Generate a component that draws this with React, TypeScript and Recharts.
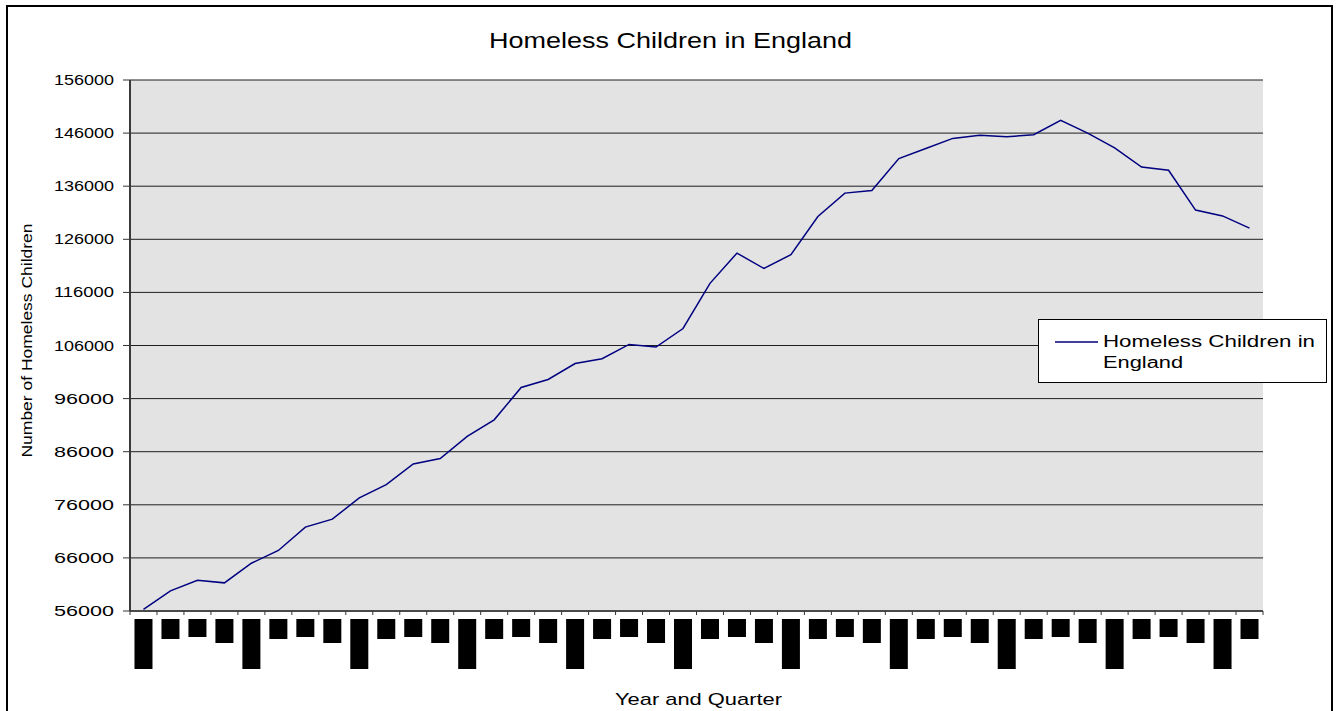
import { LineChart, Line, XAxis, YAxis, CartesianGrid } from "recharts"

// quarterly counts of homeless children, 1996 Q1 – 2006 Q2
const quarters = [
  "Q1 1996", "Q2 1996", "Q3 1996", "Q4 1996",
  "Q1 1997", "Q2 1997", "Q3 1997", "Q4 1997",
  "Q1 1998", "Q2 1998", "Q3 1998", "Q4 1998",
  "Q1 1999", "Q2 1999", "Q3 1999", "Q4 1999",
  "Q1 2000", "Q2 2000", "Q3 2000", "Q4 2000",
  "Q1 2001", "Q2 2001", "Q3 2001", "Q4 2001",
  "Q1 2002", "Q2 2002", "Q3 2002", "Q4 2002",
  "Q1 2003", "Q2 2003", "Q3 2003", "Q4 2003",
  "Q1 2004", "Q2 2004", "Q3 2004", "Q4 2004",
  "Q1 2005", "Q2 2005", "Q3 2005", "Q4 2005",
  "Q1 2006", "Q2 2006",
]

const homelessChildren = [
  56300, 59800, 61800, 61300,
  65000, 67400, 71800, 73300,
  77300, 79800, 83700, 84700,
  88900, 92000, 98100, 99600,
  102600, 103500, 106200, 105700,
  109200, 117700, 123400, 120500,
  123100, 130300, 134700, 135200,
  141200, 143100, 145000, 145600,
  145300, 145700, 148400, 146000,
  143200, 139600, 139000, 131500,
  130400, 128100,
]

const yTicks = [56000, 66000, 76000, 86000, 96000, 106000, 116000, 126000, 136000, 146000, 156000]

const SERIES_NAME = "Homeless Children in England"

const data = quarters.map((quarter, i) => ({ pos: i, quarter, children: homelessChildren[i] }))

// tick marks sit on the boundaries between quarters
const boundaries = [-0.5, ...quarters.map((_, i) => i + 0.5)]

const FONT = "'Liberation Sans', Arial, sans-serif"
const W = 1343
const H = 711
const PLOT_LEFT = 130
const PLOT_RIGHT = 1263
const PLOT_TOP = 80
const PLOT_BOTTOM = 611
const Y_AXIS_W = 70
const X_AXIS_H = 90
const STEP = (PLOT_RIGHT - PLOT_LEFT) / quarters.length

// the quarter labels print as solid blocks; year-opening quarters run longest
const blockLength = (label: string) => {
  const q = label.slice(0, 2)
  if (q === "Q1") return 50
  if (q === "Q2") return 20
  if (q === "Q3") return 18
  return 24
}

function QuarterTick({ x, y, payload }: any) {
  const label = quarters[payload.value + 0.5]
  if (!label) return null
  return (
    <rect x={x + STEP / 2 - 9} y={y + 2} width={18} height={blockLength(label)} fill="#000">
      <title>{label}</title>
    </rect>
  )
}

function ValueTick({ x, y, payload }: any) {
  return (
    <text
      x={x}
      y={y}
      dy="0.36em"
      textAnchor="end"
      fontSize={14}
      fontFamily={FONT}
      fill="#000"
      textLength={60}
      lengthAdjust="spacingAndGlyphs"
    >
      {payload.value}
    </text>
  )
}

function YTitle({ viewBox }: any) {
  const cy = viewBox.y + viewBox.height / 2 - 5
  return (
    <text
      x={27}
      y={cy}
      transform={`rotate(-90 27 ${cy})`}
      dy="0.36em"
      textAnchor="middle"
      fontSize={15}
      fontFamily={FONT}
      fill="#000"
      textLength={234}
      lengthAdjust="spacingAndGlyphs"
    >
      Number of Homeless Children
    </text>
  )
}

function XTitle({ viewBox }: any) {
  return (
    <text
      x={viewBox.x + viewBox.width / 2 + 2}
      y={705}
      textAnchor="middle"
      fontSize={17}
      fontFamily={FONT}
      fill="#000"
      textLength={167}
      lengthAdjust="spacingAndGlyphs"
    >
      Year and Quarter
    </text>
  )
}

function LegendBox() {
  return (
    <div
      style={{
        position: "absolute",
        left: 1038,
        top: 319,
        width: 289,
        height: 64,
        boxSizing: "border-box",
        border: "1px solid #000",
        background: "#fff",
      }}
    >
      <svg width={287} height={62} style={{ display: "block" }}>
        <line x1={16} x2={59} y1={22} y2={22} stroke="#000080" strokeWidth={1.5} />
        <text x={64} y={27} fontSize={16} fontFamily={FONT} fill="#000" textLength={212} lengthAdjust="spacingAndGlyphs">
          Homeless Children in
        </text>
        <text x={64} y={48} fontSize={16} fontFamily={FONT} fill="#000" textLength={80} lengthAdjust="spacingAndGlyphs">
          England
        </text>
      </svg>
    </div>
  )
}

export default function App() {
  return (
    <div style={{ position: "absolute", left: 0, top: 0, width: W, height: H, overflow: "hidden", background: "#fff" }}>
      <div
        style={{
          position: "absolute",
          left: 6,
          top: 5,
          width: 1327,
          height: 740,
          boxSizing: "border-box",
          border: "2px solid #000",
        }}
      />
      <svg width={W} height={60} style={{ position: "absolute", left: 0, top: 0 }}>
        <text
          x={670.5}
          y={48}
          textAnchor="middle"
          fontSize={22}
          fontFamily={FONT}
          fill="#000"
          textLength={363}
          lengthAdjust="spacingAndGlyphs"
        >
          {SERIES_NAME}
        </text>
      </svg>
      <div style={{ position: "absolute", left: 0, top: 0 }}>
        <LineChart
          width={W}
          height={H}
          data={data}
          margin={{
            top: PLOT_TOP,
            right: W - PLOT_RIGHT,
            bottom: H - PLOT_BOTTOM - X_AXIS_H,
            left: PLOT_LEFT - Y_AXIS_W,
          }}
        >
          <CartesianGrid vertical={false} stroke="#1e1e1e" fill="#e3e3e3" fillOpacity={1} />
          <XAxis
            dataKey="pos"
            type="number"
            domain={[-0.5, quarters.length - 0.5]}
            ticks={boundaries}
            interval={0}
            height={X_AXIS_H}
            tickSize={4}
            tickMargin={2}
            axisLine={{ stroke: "#4a4a4a", strokeWidth: 2 }}
            tickLine={{ stroke: "#333" }}
            tick={<QuarterTick />}
            label={<XTitle />}
          />
          <YAxis
            type="number"
            domain={[56000, 156000]}
            ticks={yTicks}
            interval={0}
            width={Y_AXIS_W}
            tickSize={7}
            tickMargin={9}
            axisLine={{ stroke: "#3a3a3a", strokeWidth: 2 }}
            tickLine={{ stroke: "#333" }}
            tick={<ValueTick />}
            label={<YTitle />}
          />
          <YAxis
            yAxisId="frame"
            orientation="right"
            type="number"
            domain={[56000, 156000]}
            width={0}
            tick={false}
            tickLine={false}
            axisLine={{ stroke: "#9a9a9a", strokeWidth: 1.5 }}
          />
          <Line
            type="linear"
            dataKey="children"
            name={SERIES_NAME}
            stroke="#000080"
            strokeWidth={1.5}
            dot={false}
            isAnimationActive={false}
          />
        </LineChart>
      </div>
      <LegendBox />
    </div>
  )
}
